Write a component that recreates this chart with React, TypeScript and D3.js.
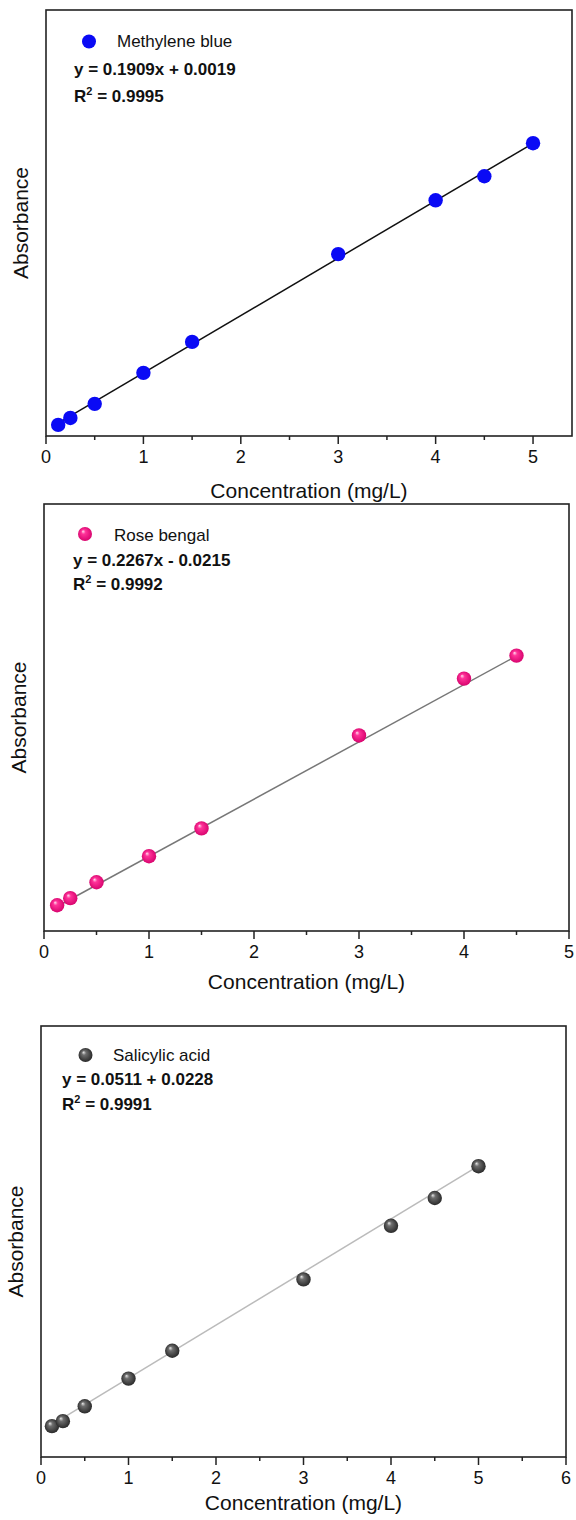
import React from "react";
import * as d3 from "d3";

// ---- Data ----
const mbConc = [0.125, 0.25, 0.5, 1, 1.5, 3, 4, 4.5, 5];
const mbAbs = [0.02, 0.043, 0.09, 0.193, 0.296, 0.588, 0.767, 0.847, 0.957];
const mbFit = { slope: 0.1909, intercept: 0.0019 };

const rbConc = [0.125, 0.25, 0.5, 1, 1.5, 3, 4, 4.5];
const rbAbs = [0.012, 0.04, 0.103, 0.206, 0.316, 0.684, 0.909, 1.0];
const rbFit = { slope: 0.2267, intercept: -0.0215 };

const saConc = [0.125, 0.25, 0.5, 1, 1.5, 3, 4, 4.5, 5];
const saAbs = [0.0277, 0.0325, 0.0468, 0.0735, 0.1003, 0.169, 0.2206, 0.2474, 0.278];
const saFit = { slope: 0.0511, intercept: 0.0228 };

const mbTicks = [0, 1, 2, 3, 4, 5];
const rbTicks = [0, 1, 2, 3, 4, 5];
const saTicks = [0, 1, 2, 3, 4, 5, 6];

const xLabel = "Concentration (mg/L)";
const yLabel = "Absorbance";

type PanelProps = {
  conc: number[];
  abs: number[];
  fit: { slope: number; intercept: number };
  ticks: number[];
  xDomain: [number, number];
  yDomain: [number, number];
  box: { x0: number; x1: number; y0: number; y1: number };
  name: string;
  eq: string;
  r2: string;
  fill: string;
  lineColor: string;
  legend: { mx: number; my: number; tx: number; ty: number; ex: number; ey: number; ry: number };
  yLabelX: number;
  xLabelY: number;
};

const FONT = "Liberation Sans, Arial, Helvetica, sans-serif";

function Panel(p: PanelProps) {
  const x = d3.scaleLinear().domain(p.xDomain).range([p.box.x0, p.box.x1]);
  const y = d3.scaleLinear().domain(p.yDomain).range([p.box.y1, p.box.y0]);
  const xs0 = d3.min(p.conc) as number;
  const xs1 = d3.max(p.conc) as number;
  const line = d3
    .line<number>()
    .x((d) => x(d))
    .y((d) => y(p.fit.slope * d + p.fit.intercept));
  const minor: number[] = [];
  for (let i = 0; i < p.ticks.length - 1; i++) minor.push((p.ticks[i] + p.ticks[i + 1]) / 2);
  const last = p.ticks[p.ticks.length - 1] + 0.5;
  if (last <= p.xDomain[1]) minor.push(last);
  const yMid = (p.box.y0 + p.box.y1) / 2;
  const xMid = (p.box.x0 + p.box.x1) / 2;
  return (
    <g fontFamily={FONT}>
      <rect
        x={p.box.x0}
        y={p.box.y0}
        width={p.box.x1 - p.box.x0}
        height={p.box.y1 - p.box.y0}
        fill="none"
        stroke="#222"
        strokeWidth={1.6}
      />
      {p.ticks.map((t) => (
        <g key={"t" + t}>
          <line x1={x(t)} x2={x(t)} y1={p.box.y1} y2={p.box.y1 + 8} stroke="#222" strokeWidth={1.5} />
          <text x={x(t)} y={p.box.y1 + 27} textAnchor="middle" fontSize={18} fill="#111">
            {t}
          </text>
        </g>
      ))}
      {minor.map((t) => (
        <line key={"m" + t} x1={x(t)} x2={x(t)} y1={p.box.y1} y2={p.box.y1 + 4} stroke="#222" strokeWidth={1.5} />
      ))}
      <path d={line([xs0, xs1]) || ""} stroke={p.lineColor} strokeWidth={1.5} fill="none" />
      {p.conc.map((c, i) => (
        <circle key={"p" + i} cx={x(c)} cy={y(p.abs[i])} r={7.2} fill={p.fill} />
      ))}
      <circle cx={p.legend.mx} cy={p.legend.my} r={7} fill={p.fill} />
      <text x={p.legend.tx} y={p.legend.ty} fontSize={17} fill="#111">
        {p.name}
      </text>
      <text x={p.legend.ex} y={p.legend.ey} fontSize={17} fontWeight="bold" fill="#111">
        {p.eq}
      </text>
      <text x={p.legend.ex} y={p.legend.ry} fontSize={17} fontWeight="bold" fill="#111">
        R<tspan dy={-7} fontSize={11}>2</tspan>
        <tspan dy={7}>{" = " + p.r2}</tspan>
      </text>
      <text
        transform={`translate(${p.yLabelX},${yMid}) rotate(-90)`}
        textAnchor="middle"
        fontSize={21}
        fill="#111"
      >
        {yLabel}
      </text>
      <text x={xMid} y={p.xLabelY} textAnchor="middle" fontSize={21} fill="#111">
        {xLabel}
      </text>
    </g>
  );
}

export default function App() {
  return (
    <svg
      width={576}
      height={1520}
      style={{ position: "absolute", left: 0, top: 0, background: "#fff" }}
    >
      <defs>
        <radialGradient id="rose" cx="50%" cy="50%" r="55%" fx="35%" fy="30%">
          <stop offset="0%" stopColor="#ffe0f0" />
          <stop offset="28%" stopColor="#ff3399" />
          <stop offset="100%" stopColor="#d4006a" />
        </radialGradient>
        <radialGradient id="grey" cx="50%" cy="50%" r="55%" fx="35%" fy="30%">
          <stop offset="0%" stopColor="#e8e8e8" />
          <stop offset="28%" stopColor="#6e6e6e" />
          <stop offset="100%" stopColor="#222" />
        </radialGradient>
      </defs>
      <Panel
        conc={mbConc}
        abs={mbAbs}
        fit={mbFit}
        ticks={mbTicks}
        xDomain={[0, 5.4]}
        yDomain={[-0.017, 1.4]}
        box={{ x0: 46, x1: 572, y0: 10, y1: 436 }}
        name="Methylene blue"
        eq="y = 0.1909x + 0.0019"
        r2="0.9995"
        fill="#0a0af5"
        lineColor="#111"
        legend={{ mx: 89, my: 41.5, tx: 117, ty: 47, ex: 74, ey: 75, ry: 102 }}
        yLabelX={28}
        xLabelY={498}
      />
      <Panel
        conc={rbConc}
        abs={rbAbs}
        fit={rbFit}
        ticks={rbTicks}
        xDomain={[0, 5]}
        yDomain={[-0.09, 1.6]}
        box={{ x0: 44, x1: 569, y0: 504, y1: 931 }}
        name="Rose bengal"
        eq="y = 0.2267x - 0.0215"
        r2="0.9992"
        fill="url(#rose)"
        lineColor="#777"
        legend={{ mx: 85, my: 534, tx: 114, ty: 541, ex: 73, ey: 566, ry: 590 }}
        yLabelX={26}
        xLabelY={989}
      />
      <Panel
        conc={saConc}
        abs={saAbs}
        fit={saFit}
        ticks={saTicks}
        xDomain={[0, 6]}
        yDomain={[-0.002, 0.413]}
        box={{ x0: 41, x1: 566, y0: 1026, y1: 1457 }}
        name="Salicylic acid"
        eq="y = 0.0511 + 0.0228"
        r2="0.9991"
        fill="url(#grey)"
        lineColor="#bbb"
        legend={{ mx: 85.5, my: 1055, tx: 113, ty: 1061, ex: 62, ey: 1085, ry: 1110 }}
        yLabelX={23}
        xLabelY={1510}
      />
    </svg>
  );
}
